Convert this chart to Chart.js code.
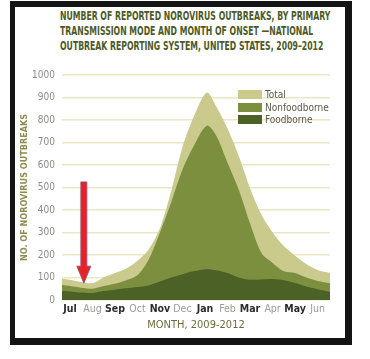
<!DOCTYPE html>
<html>
<head>
<meta charset="utf-8">
<script src="https://cdn.jsdelivr.net/npm/chart.js@4"></script>
<style>
  body { margin: 0; background: #fff; width: 370px; height: 359px; position: relative; overflow: hidden; }
  .frame { position: absolute; left: 10px; top: 1px; width: 330px; height: 331px;
           border-style: solid; border-color: #141414; border-width: 6px 7px 7px 5px; background: #fff; }
  .title { position: absolute; left: 60px; top: 9px; font-family: "Liberation Sans Narrow", "DejaVu Sans Condensed", sans-serif;
           font-stretch: condensed; font-weight: bold; font-size: 12px; line-height: 15px; color: #4d5a25;
           white-space: nowrap; transform-origin: 0 0; }
  .wrap { position: absolute; left: 15px; top: 7px; width: 330px; height: 330px; }
  .legend { position: absolute; left: 238px; top: 90px; font-family: "Liberation Sans Narrow", "DejaVu Sans Condensed", sans-serif;
            font-size: 10px; color: #5a5a4a; }
  .legend div { height: 12.5px; line-height: 10px; white-space: nowrap; }
  .legend span { display: inline-block; width: 24px; height: 9px; vertical-align: top; margin-right: 3px; }
</style>
</head>
<body>
<div class="frame"></div>
<div class="title" id="title">NUMBER OF REPORTED NOROVIRUS OUTBREAKS, BY PRIMARY<br>TRANSMISSION MODE AND MONTH OF ONSET —NATIONAL<br>OUTBREAK REPORTING SYSTEM, UNITED STATES, 2009–2012</div>
<div class="wrap"><canvas id="noroChart"></canvas></div>
<div class="legend" id="legend"></div>
<script>
const months = ['Jul', 'Aug', 'Sep', 'Oct', 'Nov', 'Dec', 'Jan', 'Feb', 'Mar', 'Apr', 'May', 'Jun'];
// position of each reading along the month axis (0 = Jul)
const monthPos = [-0.35, 0, 0.5, 1, 1.5, 2, 2.5, 3, 3.5, 4, 4.5, 5, 5.5, 6.08, 6.5, 7, 7.5, 8, 8.5, 9, 9.5, 10, 10.5, 11, 11.55];
const total = [95, 90, 80, 75, 100, 120, 140, 175, 225, 320, 485, 680, 815, 922, 860, 762, 640, 497, 380, 300, 240, 197, 160, 133, 120];
const nonfoodborne = [27, 24, 22, 19, 22, 26, 36, 52, 115, 218, 335, 465, 557, 638, 598, 490, 390, 250, 119, 72, 40, 44, 40, 37, 39];
const foodborne = [40, 38, 33, 31, 40, 46, 52, 58, 65, 82, 100, 115, 128, 137, 132, 120, 100, 90, 91, 93, 88, 76, 60, 48, 36];
const yTicks = [0, 100, 200, 300, 400, 500, 600, 700, 800, 900, 1000];

const colors = { total: '#c9ca8c', nonfood: '#7b8f3f', food: '#4b6126' };
const narrow = '"Liberation Sans Narrow", "DejaVu Sans Condensed", sans-serif';

// red arrow pointing at the summer low
const arrow = { month: 0.62, from: 525, to: 75 };

// squeeze the heading to the width of the original condensed type
const titleEl = document.getElementById('title');
titleEl.style.transform = 'scaleX(' + (270 / titleEl.scrollWidth) + ')';

const pts = vals => vals.map((v, i) => ({ x: monthPos[i], y: v }));
const nonfoodTop = nonfoodborne.map((v, i) => v + foodborne[i]);

const arrowPlugin = {
    id: 'arrow',
    afterDatasetsDraw(chart) {
        const { ctx, scales: { x, y } } = chart;
        const px = x.getPixelForValue(arrow.month);
        const top = y.getPixelForValue(arrow.from);
        const tip = y.getPixelForValue(arrow.to);
        ctx.save();
        ctx.fillStyle = '#e52329';
        ctx.strokeStyle = '#9a4a70';
        ctx.lineWidth = 0.8;
        ctx.beginPath();
        ctx.moveTo(px - 3, top);
        ctx.lineTo(px + 3, top);
        ctx.lineTo(px + 3, tip - 17);
        ctx.lineTo(px + 7, tip - 17);
        ctx.lineTo(px, tip);
        ctx.lineTo(px - 7, tip - 17);
        ctx.lineTo(px - 3, tip - 17);
        ctx.closePath();
        ctx.fill();
        ctx.stroke();
        ctx.restore();
    }
};

const chart = new Chart(document.getElementById('noroChart'), {
    type: 'line',
    data: {
        datasets: [
            { label: 'Total', data: pts(total), backgroundColor: colors.total, order: 3 },
            { label: 'Nonfoodborne', data: pts(nonfoodTop), backgroundColor: colors.nonfood, order: 2 },
            { label: 'Foodborne', data: pts(foodborne), backgroundColor: colors.food, order: 1 }
        ]
    },
    options: {
        responsive: true,
        maintainAspectRatio: false,
        animation: false,
        elements: {
            line: { fill: 'origin', borderWidth: 0, tension: 0.3 },
            point: { radius: 0 }
        },
        layout: { padding: { top: 68, right: 15, bottom: 5, left: 0 } },
        scales: {
            x: {
                type: 'linear',
                min: -0.35,
                max: 11.55,
                afterBuildTicks: s => { s.ticks = months.map((m, i) => ({ value: i })); },
                afterFit: s => { s.height = 32; },
                grid: { display: false, drawTicks: false },
                border: { display: false },
                ticks: {
                    padding: 3,
                    maxRotation: 0,
                    autoSkip: false,
                    callback: v => months[v],
                    color: c => c.index % 2 ? '#9c9c96' : '#2c2c2c',
                    font: c => ({ family: narrow, size: 10.5, weight: c.index % 2 ? 'normal' : 'bold' })
                },
                title: {
                    display: true,
                    text: 'MONTH, 2009-2012',
                    color: '#6d6d3c',
                    padding: { top: 0, bottom: 0 },
                    font: { family: narrow, size: 11 }
                }
            },
            y: {
                min: 0,
                max: 1000,
                afterBuildTicks: s => { s.ticks = yTicks.map(v => ({ value: v })); },
                afterFit: s => { s.width = 47; },
                grid: { color: '#e9e7c6', lineWidth: 1.5, drawTicks: false },
                border: { display: false },
                ticks: {
                    padding: 7,
                    color: '#8c8c86',
                    callback: v => String(v),
                    font: { family: narrow, size: 10 }
                },
                title: {
                    display: true,
                    text: 'NO. OF NOROVIRUS OUTBREAKS',
                    color: '#8d8c55',
                    padding: { top: 4, bottom: 0 },
                    font: { family: narrow, size: 9, weight: 'bold' }
                }
            }
        },
        plugins: {
            legend: { display: false },
            tooltip: { enabled: false }
        }
    },
    plugins: [arrowPlugin]
});

document.getElementById('legend').innerHTML = chart.data.datasets
    .map(d => '<div><span style="background:' + d.backgroundColor + '"></span>' + d.label + '</div>')
    .join('');
</script>
</body>
</html>
